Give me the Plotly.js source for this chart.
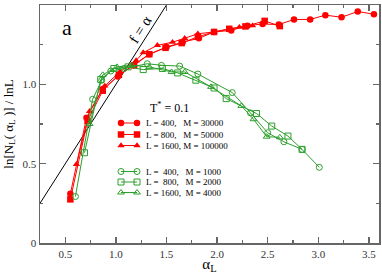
<!DOCTYPE html>
<html><head><meta charset="utf-8">
<script src="https://cdn.plot.ly/plotly-3.0.1.min.js"></script>
<style>html,body{margin:0;padding:0;background:#fff}#c{width:382px;height:274px}</style>
</head><body><div id="c"></div>
<script>
// Red (filled) series: T*=0.1, large M
const r400x = [0.55,0.71,0.87,1.02,1.17,1.33,1.50,1.66,1.82,1.97,2.14,2.30,2.45,2.61,2.76,2.92,3.07,3.23,3.39,3.55];
const r400y = [0.31,0.79,0.97,1.05,1.12,1.19,1.235,1.266,1.29,1.33,1.34,1.37,1.38,1.377,1.409,1.409,1.436,1.423,1.459,1.442];
const r800x = [0.55,0.72,0.87,1.03,1.18,1.33,1.49,1.65,1.81,1.97,2.12,2.28,2.47,2.62];
const r800y = [0.275,0.77,0.96,1.06,1.12,1.19,1.23,1.26,1.30,1.33,1.35,1.365,1.40,1.367];
const r1600x = [0.61,0.74,0.89,1.04,1.20,1.27,1.41,1.56,1.68,1.81,1.97,2.12,2.22,2.35];
const r1600y = [0.496,0.83,0.99,1.08,1.15,1.20,1.246,1.266,1.29,1.319,1.33,1.35,1.36,1.37];
// Green (open) series: small M
const g400x = [0.60,0.77,0.86,0.95,1.08,1.31,1.45,1.63,1.81,2.15,2.33,2.50,2.66,2.84,3.01];
const g400y = [0.293,0.906,1.026,1.084,1.10,1.13,1.12,1.115,1.065,0.948,0.82,0.695,0.638,0.59,0.477];
const g800x = [0.69,0.85,0.98,1.12,1.27,1.46,1.61,1.79,1.97,2.09,2.39,2.54,2.70,2.84];
const g800y = [0.569,1.03,1.10,1.11,1.093,1.10,1.072,1.026,0.977,0.91,0.816,0.737,0.674,0.59];
const g1600x = [0.74,0.87,1.01,1.16,1.33,1.55,1.68,1.94,2.24,2.36,2.49,2.62];
const g1600y = [0.75,1.06,1.11,1.12,1.11,1.078,1.078,0.984,0.864,0.78,0.67,0.666];
// f = alpha reference line
const fx = [0.25,1.55];
const fy = [0.25,1.55];
const xTicks = [0.5,1.0,1.5,2.0,2.5,3.0,3.5];
const xTickText = ['0.5','1.0','1.5','2.0','2.5','3.0','3.5'];
const yTicks = [0,0.5,1.0,1.5];
const yTickText = ['0','0.5','1.0','1.5'];
const redLabels = ['L = 400,   M = 30000','L = 800,   M = 50000','L = 1600, M = 100000'];
const greenLabels = ['L =  400,   M = 1000','L =  800,   M = 2000','L = 1600,  M = 4000'];

const RED = '#ff0000', GREEN = '#2ca02c';
const SERIF = 'Liberation Serif, Times New Roman, serif';
// plot area in pixels: x 40..379, y 5..243
const px = v => (v-40)/339, py = v => (243-v)/238;
function s(x,y,color,symbol,open){
  return {x:x,y:y,type:'scatter',mode:'lines+markers',showlegend:false,
    line:{color:color,width:1},
    marker:{color:color,symbol:symbol,size:open?6:6.5,
      line:{color:color,width:open?1:0}}};
}
const traces = [
  {x:fx,y:fy,type:'scatter',mode:'lines',line:{color:'#000',width:1},showlegend:false},
  s(r400x,r400y,RED,'circle',false),
  s(r800x,r800y,RED,'square',false),
  s(r1600x,r1600y,RED,'triangle-up',false),
  s(g400x,g400y,GREEN,'circle-open',true),
  s(g800x,g800y,GREEN,'square-open',true),
  s(g1600x,g1600y,GREEN,'triangle-up-open',true)
];
// Custom legend samples drawn on a helper axis spanning the plot area
const legRowsR = [123,134.5,145.5], legRowsG = [171.5,182,192.5];
const symsR = ['circle','square','triangle-up'], symsG = ['circle-open','square-open','triangle-up-open'];
const ann = [];
function txt(x,y,text,size,extra){
  return Object.assign({xref:'paper',yref:'paper',x:px(x),y:py(y),text:text,showarrow:false,
    xanchor:'left',yanchor:'middle',font:{family:SERIF,size:size,color:'#000'}},extra||{});
}
legRowsR.forEach((yy,i)=>{
  const t = s([px(121),px(137)],[py(yy),py(yy)],RED,symsR[i],false); t.xaxis='x2'; t.yaxis='y2'; t.cliponaxis=false; traces.push(t);
  ann.push(txt(144,yy,redLabels[i],9));
});
legRowsG.forEach((yy,i)=>{
  const t = s([px(121),px(137)],[py(yy),py(yy)],GREEN,symsG[i],true); t.xaxis='x2'; t.yaxis='y2'; t.cliponaxis=false; traces.push(t);
  ann.push(txt(144,yy,greenLabels[i],9));
});
ann.push(txt(148,107,'T<sup>*</sup> = 0.1',12));
ann.push(txt(67,27,'a',22,{xanchor:'center'}));
ann.push(txt(140,30,'f = α',15,{xanchor:'center',textangle:-57.5}));

const axCommon = {showgrid:false,zeroline:false,ticks:'inside',mirror:'ticks',showline:true,
  linecolor:'#666',linewidth:1.5,tickcolor:'#666',ticklen:6,tickwidth:1.5,
  tickfont:{family:SERIF,size:11,color:'#333'},
  minor:{ticks:'inside',ticklen:3,tickcolor:'#666',tickwidth:1.2,dtick:0.25}};
const layout = {
  width:382,height:274,margin:{l:40,r:3,t:5,b:31},
  paper_bgcolor:'#fff',plot_bgcolor:'#fff',
  xaxis:Object.assign({},axCommon,{range:[0.25,3.6],tickmode:'array',tickvals:xTicks,ticktext:xTickText,
    minor:Object.assign({},axCommon.minor,{tick0:0.25}),
    title:{text:'α<sub>L</sub>',font:{family:SERIF,size:15,color:'#000'},standoff:0}}),
  yaxis:Object.assign({},axCommon,{range:[0,1.5],tickmode:'array',tickvals:yTicks,ticktext:yTickText,
    minor:Object.assign({},axCommon.minor,{tick0:0}),
    title:{text:'ln[N<sub>L</sub>( α<sub>L</sub> )] / lnL',font:{family:SERIF,size:13,color:'#000'},standoff:6}}),
  xaxis2:{overlaying:'x',range:[0,1],visible:false,fixedrange:true},
  yaxis2:{overlaying:'y',range:[0,1],visible:false,fixedrange:true},
  annotations:ann
};
Plotly.newPlot('c',traces,layout,{staticPlot:true,displayModeBar:false});
</script></body></html>
